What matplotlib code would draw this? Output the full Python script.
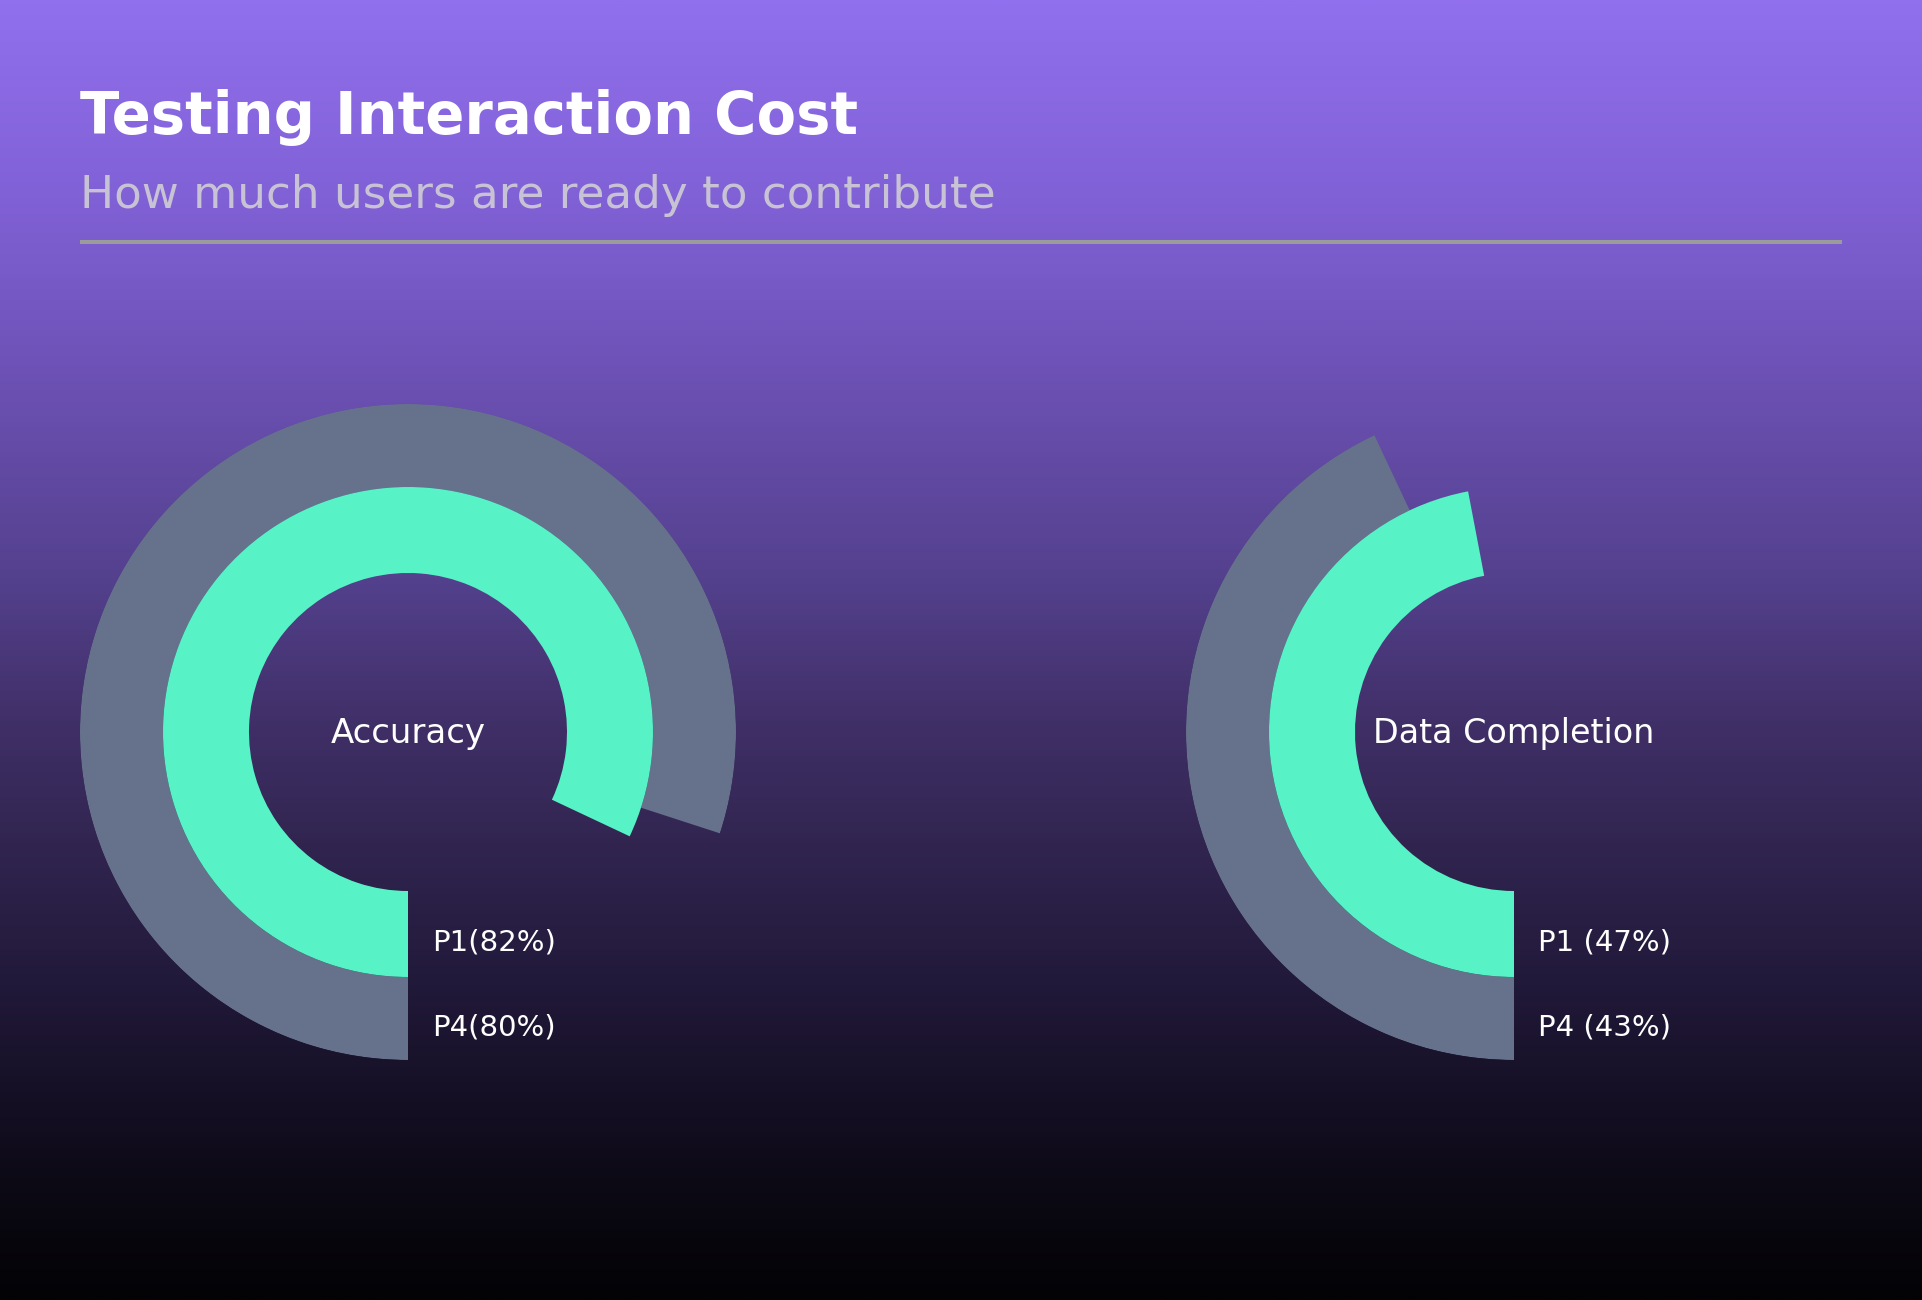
import numpy as np
import matplotlib
matplotlib.use("Agg")
import matplotlib.pyplot as plt
from matplotlib.colors import LinearSegmentedColormap

W, H = 1922, 1300

title = "Testing Interaction Cost"
subtitle = "How much users are ready to contribute"

charts = ["Accuracy", "Data Completion"]
p1_values = [82, 47]
p4_values = [80, 43]
p1_labels = ["P1(82%)", "P1 (47%)"]
p4_labels = ["P4(80%)", "P4 (43%)"]

GREEN = "#57f2c5"
GREY = "#66718b"

# background gradient stops (top -> bottom)
bg_stops = [0.0, 0.15, 0.30, 0.45, 0.55, 0.65, 0.75, 0.85, 0.93, 1.0]
bg_colors = ["#9170ee", "#8161d6", "#6b50b2", "#53408c", "#413069",
             "#312550", "#221a3b", "#150f24", "#0a0811", "#030205"]

fig = plt.figure(figsize=(W / 100, H / 100), dpi=100)

bg = fig.add_axes([0, 0, 1, 1])
cmap = LinearSegmentedColormap.from_list("bg", list(zip(bg_stops, bg_colors)))
grad = np.linspace(0, 1, 512).reshape(-1, 1)
bg.imshow(grad, cmap=cmap, aspect="auto", extent=[0, W, H, 0])
bg.set_xlim(0, W)
bg.set_ylim(H, 0)
bg.axis("off")

# header
bg.text(80, 134, title, color="white", fontsize=41.5, fontweight="bold",
        family="DejaVu Sans", va="baseline", ha="left")
bg.text(80, 208, subtitle, color="#c7c2d4", fontsize=32.6, fontweight="normal",
        family="DejaVu Sans", va="baseline", ha="left")
bg.plot([80, 1842], [242, 242], color="#9b9b9b", lw=2.9, solid_capstyle="butt")

# radial bars, clockwise from the bottom
centers_x = [408, 1514]
cy = 732
r_outer, r_mid, r_inner = 328, 245, 159

for i, name in enumerate(charts):
    cx = centers_x[i]
    ax = fig.add_axes([(cx - r_outer) / W, (H - cy - r_outer) / H,
                       2 * r_outer / W, 2 * r_outer / H], projection="polar")
    ax.set_theta_zero_location("S")
    ax.set_theta_direction(-1)
    ax.set_ylim(0, r_outer)
    ax.bar([0], [r_outer - r_mid], width=[p4_values[i] / 100 * 2 * np.pi],
           bottom=r_mid, align="edge", color=GREY, linewidth=0)
    ax.bar([0], [r_mid - r_inner], width=[p1_values[i] / 100 * 2 * np.pi],
           bottom=r_inner, align="edge", color=GREEN, linewidth=0)
    ax.set_facecolor("none")
    ax.axis("off")

    bg.text(cx, cy + 2, name, color="white", fontsize=24.5 if i == 0 else 24,
            ha="center", va="center", family="DejaVu Sans")
    bg.text(cx + 24, cy + (r_inner + r_mid) / 2 + 8, p1_labels[i], color="white",
            fontsize=21, ha="left", va="center", family="DejaVu Sans")
    bg.text(cx + 24, cy + (r_mid + r_outer) / 2 + 9, p4_labels[i], color="white",
            fontsize=21, ha="left", va="center", family="DejaVu Sans")

fig.savefig("out.png", dpi=100)
